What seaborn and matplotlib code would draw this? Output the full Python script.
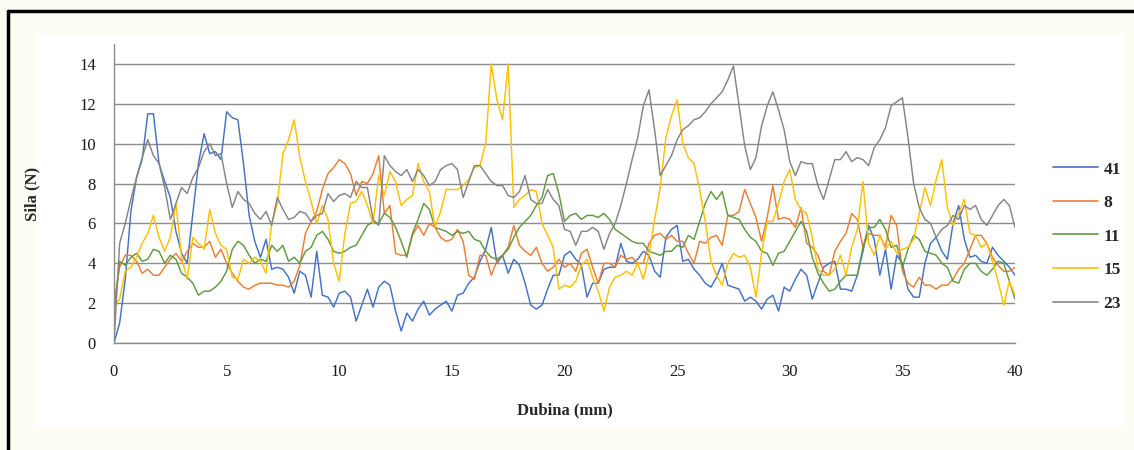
import numpy as np
import pandas as pd
import matplotlib
matplotlib.use("Agg")
import matplotlib.pyplot as plt
from matplotlib.lines import Line2D
from matplotlib.patches import Rectangle
import seaborn as sns

# depth axis (mm), one reading every 0.25 mm
depth = np.linspace(0, 40, 161)

# force readings (N) per sample
sila_41 = [0.0, 1.0, 3.2, 6.6, 8.3, 9.2, 11.5, 11.5, 9.0, 8.1, 7.3, 5.6, 4.5, 4.0, 6.5, 9.0, 10.5, 9.5, 9.6, 9.2, 11.6,
           11.3, 11.2, 9.0, 6.4, 5.1, 4.3, 5.2, 3.7, 3.8, 3.7, 3.3, 2.5, 3.6, 3.4, 2.3, 4.6, 2.4, 2.3, 1.8, 2.5,
           2.6, 2.3, 1.1, 1.9, 2.7, 1.8, 2.8, 3.1, 2.9, 1.6, 0.6, 1.5, 1.1, 1.7, 2.1, 1.4, 1.7, 1.9, 2.1, 1.6,
           2.4, 2.5, 3.0, 3.3, 4.1, 4.7, 5.8, 4.0, 4.4, 3.5, 4.2, 3.9, 3.0, 1.9, 1.7, 1.9, 2.7, 3.4, 3.4, 4.4,
           4.6, 4.2, 3.9, 2.3, 3.0, 3.0, 3.7, 3.8, 3.8, 5.0, 4.1, 4.0, 4.2, 4.6, 4.4, 3.6, 3.3, 5.3, 5.7, 5.9,
           4.1, 4.2, 3.7, 3.4, 3.0, 2.8, 3.3, 4.0, 2.9, 2.8, 2.7, 2.1, 2.3, 2.1, 1.7, 2.2, 2.4, 1.6, 2.8, 2.6,
           3.2, 3.7, 3.4, 2.2, 3.0, 3.8, 4.0, 4.1, 2.7, 2.7, 2.6, 3.4, 4.6, 5.9, 5.2, 3.4, 4.7, 2.7, 4.4, 4.0,
           2.7, 2.3, 2.3, 4.0, 5.0, 5.3, 4.6, 4.2, 6.0, 6.9, 5.2, 4.3, 4.4, 4.1, 4.0, 4.8, 4.4, 4.1, 3.8, 3.4]

sila_8 = [2.0, 3.8, 4.4, 4.4, 4.1, 3.5, 3.7, 3.4, 3.4, 3.8, 4.2, 4.5, 4.1, 4.6, 5.0, 4.8, 4.8, 5.1, 4.3, 4.7, 4.0,
          3.5, 3.1, 2.8, 2.7, 2.9, 3.0, 3.0, 3.0, 2.9, 2.9, 2.8, 3.1, 3.9, 5.5, 6.1, 6.6, 7.7, 8.5, 8.8, 9.2,
          9.0, 8.5, 7.4, 8.1, 8.0, 8.5, 9.4, 6.5, 6.9, 4.5, 4.4, 4.4, 5.4, 5.9, 5.4, 6.0, 5.8, 5.3, 5.1, 5.2,
          5.7, 5.1, 3.4, 3.2, 4.4, 4.4, 3.4, 4.1, 4.4, 4.8, 5.9, 4.9, 4.6, 4.4, 4.8, 4.0, 3.6, 3.8, 4.2, 3.8,
          4.0, 3.6, 4.5, 4.7, 3.8, 3.0, 4.0, 4.0, 3.8, 4.4, 4.2, 4.3, 4.0, 4.0, 5.0, 5.4, 5.5, 5.2, 5.4, 5.1,
          5.1, 4.5, 4.0, 5.1, 5.0, 5.3, 5.4, 4.9, 6.4, 6.4, 6.6, 7.7, 7.0, 6.3, 5.1, 6.3, 7.9, 6.2, 6.3, 6.2,
          5.8, 6.8, 5.0, 4.8, 4.4, 3.6, 3.4, 4.6, 5.1, 5.5, 6.5, 6.2, 4.8, 5.5, 5.4, 5.4, 4.8, 6.4, 5.9, 3.6,
          3.0, 2.8, 3.3, 2.9, 2.9, 2.7, 2.9, 2.9, 3.2, 3.7, 4.0, 4.7, 5.4, 5.4, 5.0, 4.3, 3.9, 3.6, 3.6, 3.8]

sila_11 = [1.5, 4.1, 3.9, 4.3, 4.5, 4.1, 4.2, 4.7, 4.6, 4.0, 4.4, 4.2, 3.5, 3.3, 3.0, 2.4, 2.6, 2.6, 2.8, 3.1, 3.6,
           4.7, 5.1, 4.9, 4.4, 4.0, 4.2, 4.1, 4.9, 4.6, 4.9, 4.1, 4.3, 4.0, 4.6, 4.8, 5.4, 5.6, 5.2, 4.6, 4.5,
           4.6, 4.8, 4.9, 5.4, 5.9, 6.1, 6.0, 6.5, 6.3, 5.8, 5.1, 4.3, 5.5, 6.2, 7.0, 6.7, 5.8, 5.7, 5.6, 5.4,
           5.6, 5.5, 5.6, 5.2, 5.1, 4.6, 4.3, 4.2, 4.4, 4.7, 5.3, 5.8, 6.1, 6.4, 6.9, 7.3, 8.4, 8.5, 7.5, 6.1,
           6.4, 6.5, 6.2, 6.4, 6.4, 6.3, 6.5, 6.2, 5.7, 5.5, 5.3, 5.1, 5.0, 5.0, 4.6, 4.5, 4.4, 4.6, 4.6, 4.9,
           4.8, 5.4, 5.2, 6.1, 7.0, 7.6, 7.2, 7.6, 6.4, 6.3, 6.2, 5.7, 5.3, 5.1, 4.6, 4.5, 3.9, 4.5, 4.6, 5.1,
           5.6, 6.1, 5.6, 4.3, 3.5, 3.0, 2.6, 2.7, 3.1, 3.4, 3.4, 3.4, 4.8, 5.8, 5.8, 6.2, 5.7, 4.8, 4.9, 3.8,
           4.7, 5.4, 5.2, 4.6, 4.5, 4.4, 4.0, 3.8, 3.1, 3.0, 3.7, 4.0, 4.0, 3.6, 3.4, 3.7, 4.1, 4.0, 3.1, 2.2]

sila_15 = [1.8, 2.2, 3.6, 3.8, 4.3, 5.0, 5.5, 6.4, 5.3, 4.6, 5.3, 7.0, 4.3, 3.2, 5.3, 5.0, 4.7, 6.7, 5.5, 4.9, 4.7,
           3.3, 3.2, 4.2, 4.0, 4.3, 4.1, 3.5, 6.0, 7.0, 9.5, 10.2, 11.2, 9.3, 8.1, 7.1, 6.0, 6.9, 6.2, 4.0, 3.1,
           5.5, 7.0, 7.1, 7.6, 6.9, 6.0, 8.4, 7.4, 8.6, 8.1, 6.9, 7.2, 7.4, 9.0, 8.1, 7.6, 5.8, 6.6, 7.7, 7.7,
           7.7, 7.9, 8.2, 8.8, 8.9, 10.0, 14.0, 12.2, 11.2, 14.0, 6.8, 7.2, 7.4, 7.7, 7.6, 6.0, 5.4, 4.8, 2.7, 2.9,
           2.8, 3.1, 3.9, 4.2, 3.3, 2.6, 1.6, 2.8, 3.3, 3.4, 3.6, 3.4, 4.0, 3.2, 4.4, 6.2, 7.8, 10.3, 11.4, 12.2,
           10.0, 9.3, 9.0, 7.7, 6.1, 4.1, 3.4, 2.9, 4.0, 4.5, 4.3, 4.4, 3.8, 2.3, 4.5, 6.1, 6.1, 7.0, 8.1, 8.7,
           7.2, 6.7, 6.5, 5.3, 3.7, 3.4, 3.4, 3.7, 4.4, 3.4, 4.8, 5.7, 8.1, 5.0, 4.4, 5.4, 4.7, 5.1, 4.5, 4.7,
           4.8, 5.2, 6.5, 7.8, 6.9, 8.2, 9.2, 6.8, 5.9, 6.5, 7.2, 5.5, 5.4, 4.8, 5.0, 4.1, 3.1, 1.9, 3.1, 2.4]

sila_23 = [0.0, 5.0, 6.0, 7.2, 8.3, 9.3, 10.2, 9.4, 9.0, 7.8, 6.2, 7.0, 7.8, 7.5, 8.3, 8.8, 9.6, 10.0, 9.4, 9.5, 8.0,
           6.8, 7.6, 7.2, 7.0, 6.5, 6.2, 6.6, 5.9, 7.3, 6.7, 6.2, 6.3, 6.6, 6.5, 6.1, 6.4, 6.5, 7.5, 7.1, 7.4,
           7.5, 7.3, 8.1, 7.8, 7.8, 6.2, 5.9, 9.4, 8.9, 8.6, 8.4, 8.7, 8.1, 8.7, 8.4, 7.9, 8.1, 8.7, 8.9, 9.0,
           8.7, 7.3, 8.1, 8.9, 8.9, 8.5, 8.1, 7.9, 7.9, 7.4, 7.3, 7.6, 8.4, 7.2, 7.0, 7.0, 7.7, 7.2, 6.9, 5.7,
           5.6, 4.9, 5.6, 5.6, 5.8, 5.6, 4.7, 5.5, 6.0, 6.9, 8.0, 9.2, 10.3, 11.9, 12.7, 10.7, 8.4, 8.9, 9.4, 10.2,
           10.7, 10.9, 11.2, 11.3, 11.6, 12.0, 12.3, 12.6, 13.2, 13.9, 11.9, 9.9, 8.7, 9.3, 10.9, 11.9, 12.6, 11.7, 10.7, 9.1,
           8.4, 9.1, 9.0, 9.0, 7.9, 7.2, 8.2, 9.2, 9.2, 9.6, 9.1, 9.3, 9.2, 8.9, 9.8, 10.2, 10.8, 11.9, 12.1, 12.3,
           10.3, 8.0, 6.8, 6.2, 6.0, 5.3, 5.7, 5.9, 6.4, 6.2, 6.9, 6.7, 6.9, 6.2, 5.9, 6.4, 6.9, 7.2, 6.9, 5.8]

series_names = ['41', '8', '11', '15', '23']
colors = ['#4472C4', '#ED7D31', '#5F9B3E', '#FFC000', '#858585']

frames = []
for name, vals in zip(series_names, [sila_41, sila_8, sila_11, sila_15, sila_23]):
    frames.append(pd.DataFrame({'Dubina': depth, 'Sila': vals, 'serija': name}))
df = pd.concat(frames, ignore_index=True)

sns.set_style('white')
plt.rcParams['font.family'] = ['Liberation Serif', 'DejaVu Serif']

W, H = 1134, 450
fig = plt.figure(figsize=(W / 100, H / 100), dpi=100, facecolor='#fcfcf3')
# slightly whiter chart area inside the cream page
fig.patches.append(Rectangle((35 / W, 1 - 427 / H), (1125 - 35) / W, (427 - 33) / H,
                             transform=fig.transFigure, facecolor='white', edgecolor='none', zorder=-10))

ax = fig.add_axes([114 / W, 1 - 343 / H, 901 / W, 299 / H])
ax.set_facecolor('white')
ax.set_zorder(1)

sns.lineplot(data=df, x='Dubina', y='Sila', hue='serija', hue_order=series_names,
             palette=colors, estimator=None, linewidth=1.05, ax=ax, legend=False)

ax.set_xlim(0, 40)
ax.set_ylim(0, 15)
ax.set_xticks(range(0, 41, 5))
ax.set_yticks(range(0, 15, 2))
ax.yaxis.grid(True, color='#8c8c8c', linewidth=1.0)
ax.xaxis.grid(False)
ax.set_axisbelow(True)
for side in ['top', 'right']:
    ax.spines[side].set_visible(False)
for side in ['left', 'bottom']:
    ax.spines[side].set_color('#8c8c8c')
    ax.spines[side].set_linewidth(1.0)
ax.tick_params(axis='both', direction='out', length=5, width=1, color='#8c8c8c',
               labelsize=12, labelcolor='#1a1a1a')
ax.tick_params(axis='y', pad=8)
ax.tick_params(axis='x', pad=10)

ax.set_xlabel('Dubina (mm)', fontweight='bold', fontsize=12)
ax.set_ylabel('Sila (N)', fontweight='bold', fontsize=12)
ax.xaxis.set_label_coords(0.5, -0.197)
ax.yaxis.set_label_coords(-0.082, 0.5)

handles = [Line2D([0], [0], color=c, linewidth=1.2) for c in colors]
ax.legend(handles, series_names, loc='center left', bbox_to_anchor=(1053 / W, 1 - 236.5 / H),
          bbox_transform=fig.transFigure, frameon=False, prop={'weight': 'bold', 'size': 12.5},
          handlelength=2.6, handletextpad=0.3, labelspacing=1.0, borderpad=0, borderaxespad=0)

# black frame lines (top and left) around the page
fig.add_artist(Line2D([8 / W, 1], [1 - 11 / H, 1 - 11 / H], transform=fig.transFigure,
                      color='black', linewidth=2.5))
fig.add_artist(Line2D([8 / W, 8 / W], [0, 1 - 11 / H], transform=fig.transFigure,
                      color='black', linewidth=2.5))

fig.savefig('out.png', dpi=100, facecolor=fig.get_facecolor())
